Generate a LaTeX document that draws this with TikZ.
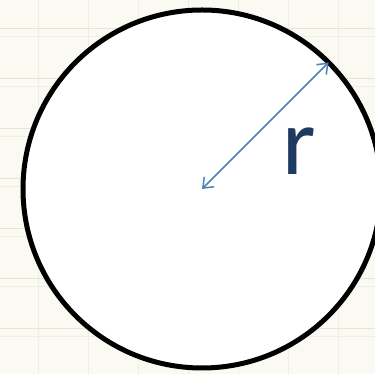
\documentclass[tikz,border=0pt]{standalone}
\usepackage{fontspec}
\newfontfamily\labelfont{Carlito}
\usetikzlibrary{arrows.meta,calc,positioning}
\definecolor{paper}{HTML}{FAFAF3}
\definecolor{gridline}{HTML}{E4E4DA}
\definecolor{gridfaint}{HTML}{EEEEE6}
\definecolor{radiusblue}{HTML}{4F81BD}
\definecolor{labelblue}{HTML}{1F3A60}

\begin{document}
\begin{tikzpicture}[x=1pt,y=1pt]
      % Background paper with grid
      \fill[paper] (0,0) rectangle (375,374);
      \useasboundingbox (0,0) rectangle (375,374);
      \foreach \k in {-12,38,88,138,188,238,288,338}{
        \draw[gridfaint,line width=0.8] (\k,0) -- (\k,374);
        \draw[gridline,line width=0.8] (\k+50,0) -- (\k+50,374);
      }
      \foreach \k in {46,96,146,196,246,296,346}{
        \draw[gridline,line width=0.8] (0,\k) -- (375,\k);
        \draw[gridfaint,line width=0.8] (0,\k-8) -- (375,\k-8);
      }
      % Circle
      \coordinate (o) at (202,185);
      \fill[white] (o) circle (179);
      \draw[line width=5] (o) circle (179);
      % Radius arrow
      \coordinate (p) at ($(o)+(45:179)$);
      \draw[radiusblue,line width=1.5,{Straight Barb[length=9pt,width=14pt]}-{Straight Barb[length=9pt,width=14pt]}] (o) -- (p);
      \node[labelblue,font=\labelfont\fontsize{96}{96}\selectfont] (rlabel) at (299,223) {r};
\end{tikzpicture}
\end{document}
